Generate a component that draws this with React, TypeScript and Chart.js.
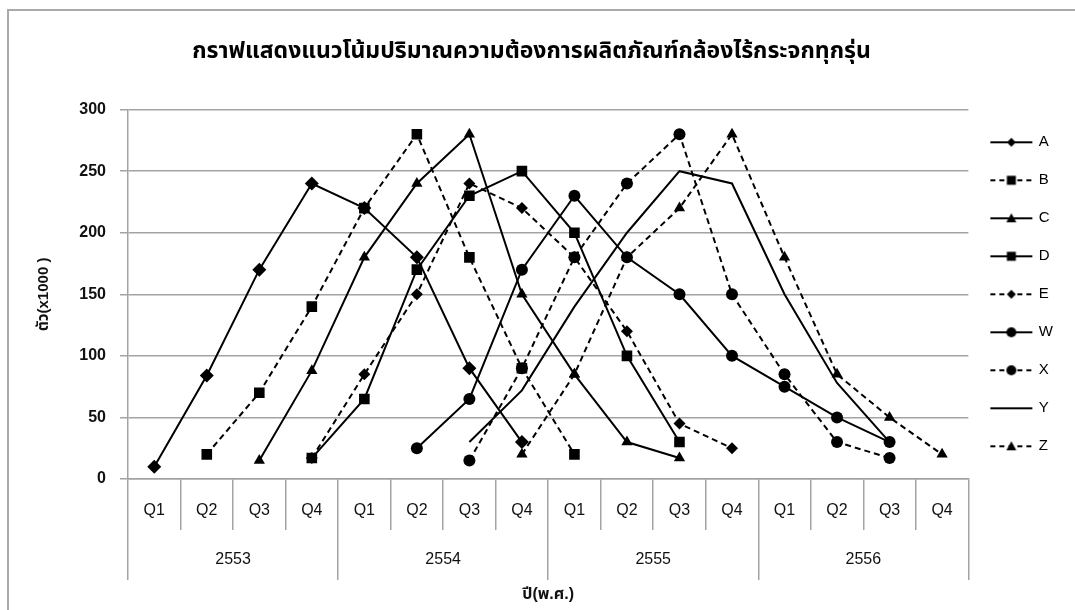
import React, { useEffect, useRef } from "react";
import { Chart, registerables } from "chart.js";

Chart.register(...registerables);

const quarters = ["Q1", "Q2", "Q3", "Q4", "Q1", "Q2", "Q3", "Q4", "Q1", "Q2", "Q3", "Q4", "Q1", "Q2", "Q3", "Q4"];
const years = ["2553", "2554", "2555", "2556"];
const yTicks = [0, 50, 100, 150, 200, 250, 300];

const seriesA = [10, 84, 170, 240, 220, 180, 90, 30, null, null, null, null, null, null, null, null];
const seriesB = [null, 20, 70, 140, 220, 280, 180, 90, 20, null, null, null, null, null, null, null];
const seriesC = [null, null, 15, 88, 180, 240, 280, 150, 85, 30, 17, null, null, null, null, null];
const seriesD = [null, null, null, 17, 65, 170, 230, 250, 200, 100, 30, null, null, null, null, null];
const seriesE = [null, null, null, 17, 85, 150, 240, 220, 180, 120, 45, 25, null, null, null, null];
const seriesW = [null, null, null, null, null, 25, 65, 170, 230, 180, 150, 100, 75, 50, 30, null];
const seriesX = [null, null, null, null, null, null, 15, 90, 180, 240, 280, 150, 85, 30, 17, null];
const seriesY = [null, null, null, null, null, null, 30, 72, 140, 200, 250, 240, 150, 78, 30, null];
const seriesZ = [null, null, null, null, null, null, null, 20, 85, 180, 220, 280, 180, 85, 50, 20];

const titleText = "กราฟแสดงแนวโน้มปริมาณความต้องการผลิตภัณฑ์กล้องไร้กระจกทุกรุ่น";
const yTitle = "ตัว(x1000 )";
const xTitle = "ปี(พ.ศ.)";

const FONT = "'Liberation Sans', Arial, 'Noto Sans Thai', 'Noto Sans', sans-serif";
const GRID = "#a3a3a3";
const DASH = [6, 4];

type Spec = { label: string; data: (number | null)[]; dashed: boolean; style: string | false; radius: number };

const specs: Spec[] = [
  { label: "A", data: seriesA, dashed: false, style: "rectRot", radius: 7 },
  { label: "B", data: seriesB, dashed: true, style: "rect", radius: 7.5 },
  { label: "C", data: seriesC, dashed: false, style: "triangle", radius: 6.5 },
  { label: "D", data: seriesD, dashed: false, style: "rect", radius: 7.5 },
  { label: "E", data: seriesE, dashed: true, style: "rectRot", radius: 6 },
  { label: "W", data: seriesW, dashed: false, style: "circle", radius: 6 },
  { label: "X", data: seriesX, dashed: true, style: "circle", radius: 6 },
  { label: "Y", data: seriesY, dashed: false, style: false, radius: 0 },
  { label: "Z", data: seriesZ, dashed: true, style: "triangle", radius: 6.5 },
];

function legendIcon(s: Spec): HTMLCanvasElement {
  const c = document.createElement("canvas");
  c.width = 44;
  c.height = 14;
  const ctx = c.getContext("2d")!;
  ctx.strokeStyle = "#000";
  ctx.fillStyle = "#000";
  ctx.lineWidth = 2;
  ctx.setLineDash(s.dashed ? [5, 4] : []);
  ctx.beginPath();
  ctx.moveTo(1, 7);
  ctx.lineTo(43, 7);
  ctx.stroke();
  ctx.setLineDash([]);
  const cx = 22, cy = 7;
  ctx.beginPath();
  if (s.style === "rectRot") {
    ctx.moveTo(cx - 4.5, cy); ctx.lineTo(cx, cy - 4.5); ctx.lineTo(cx + 4.5, cy); ctx.lineTo(cx, cy + 4.5); ctx.closePath(); ctx.fill();
  } else if (s.style === "rect") {
    ctx.fillRect(cx - 4.5, cy - 4.5, 9, 9);
  } else if (s.style === "triangle") {
    ctx.moveTo(cx - 5, cy + 4); ctx.lineTo(cx, cy - 5); ctx.lineTo(cx + 5, cy + 4); ctx.closePath(); ctx.fill();
  } else if (s.style === "circle") {
    ctx.arc(cx, cy, 5, 0, Math.PI * 2); ctx.fill();
  }
  return c;
}

export default function App() {
  const ref = useRef<HTMLCanvasElement>(null);
  useEffect(() => {
    if (!ref.current) return;
    const icons = specs.map(legendIcon);
    const chart = new Chart(ref.current, {
      type: "line",
      data: {
        labels: quarters,
        datasets: specs.map((s) => ({
          label: s.label,
          data: s.data,
          borderColor: "#000",
          backgroundColor: "#000",
          borderWidth: 2,
          borderDash: s.dashed ? DASH : [],
          pointStyle: s.style as any,
          pointRadius: s.radius,
          pointBackgroundColor: "#000",
          pointBorderColor: "#000",
          pointBorderWidth: 0,
          tension: 0,
          spanGaps: false,
        })),
      },
      options: {
        responsive: false,
        animation: false,
        layout: { padding: { left: 0, right: 12, top: 0, bottom: 0 } },
        plugins: {
          tooltip: { enabled: false },
          title: {
            display: true,
            text: titleText,
            color: "#000",
            font: { family: FONT, size: 23, weight: "bold" },
            padding: { top: 38, bottom: 44 },
          },
          legend: {
            position: "right",
            fullSize: false,
            labels: {
              usePointStyle: true,
              pointStyleWidth: 40,
              padding: 23,
              color: "#000",
              font: { family: FONT, size: 15 },
              generateLabels: () =>
                specs.map((s, i) => ({
                  text: s.label,
                  pointStyle: icons[i] as any,
                  datasetIndex: i,
                  hidden: false,
                  fillStyle: "#000",
                  strokeStyle: "#000",
                  lineWidth: 0,
                })),
            },
          },
        },
        scales: {
          y: {
            min: 0,
            max: 300,
            afterBuildTicks: (scale: any) => {
              scale.ticks = yTicks.map((v) => ({ value: v }));
            },
            afterFit: (scale: any) => {
              scale.width = 128;
            },
            grid: { color: GRID, lineWidth: 1.5, tickLength: 8, tickColor: GRID },
            border: { display: true, color: GRID, width: 1.5 },
            ticks: {
              color: "#111",
              padding: 14,
              font: { family: FONT, size: 16, weight: "bold" },
            },
            title: {
              display: true,
              text: yTitle,
              color: "#111",
              font: { family: FONT, size: 15, weight: "bold" },
              padding: { top: 35, bottom: 0 },
            },
          },
          x: {
            type: "category",
            offset: true,
            afterFit: (scale: any) => {
              scale.height = 51;
            },
            grid: { offset: true, drawOnChartArea: false, color: GRID, lineWidth: 1.5, tickLength: 51 },
            border: { display: true, color: GRID, width: 1.5 },
            ticks: {
              color: "#111",
              padding: -29,
              maxRotation: 0,
              autoSkip: false,
              font: { family: FONT, size: 16 },
            },
          },
          x2: {
            type: "category",
            position: "bottom",
            labels: years,
            offset: true,
            afterFit: (scale: any) => {
              scale.height = 80;
            },
            grid: { offset: true, drawOnChartArea: false, color: GRID, lineWidth: 1.5, tickLength: 50 },
            border: { display: false },
            ticks: {
              color: "#111",
              padding: -30,
              maxRotation: 0,
              autoSkip: false,
              font: { family: FONT, size: 16 },
            },
            title: {
              display: true,
              text: xTitle,
              color: "#111",
              font: { family: FONT, size: 16, weight: "bold" },
              padding: { top: 0, bottom: 6 },
            },
          },
        },
      },
    });
    return () => chart.destroy();
  }, []);

  return (
    <div>
      <canvas
        ref={ref}
        width={1075}
        height={610}
        style={{ position: "absolute", left: 0, top: 0, width: 1075, height: 610 }}
      />
      <div
        style={{
          position: "absolute",
          left: 7,
          top: 9,
          width: 1068,
          height: 601,
          boxSizing: "border-box",
          borderLeft: "2px solid #aaa",
          borderTop: "2px solid #aaa",
          pointerEvents: "none",
        }}
      />
    </div>
  );
}
